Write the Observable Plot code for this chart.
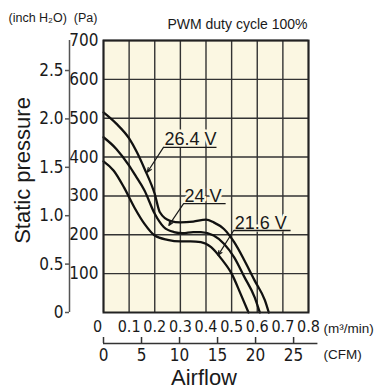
<!DOCTYPE html>
<html><head><meta charset="utf-8">
<script src="https://cdn.jsdelivr.net/npm/d3@7"></script>
<script src="https://cdn.jsdelivr.net/npm/@observablehq/plot@0.6"></script>
<style>html,body{margin:0;padding:0;background:#fff}svg{display:block}</style>
</head><body><div id="chart"></div>
<script>
// ---- data ----
const seriesNames = ["26.4 V", "24 V", "21.6 V"];

const airflow26 = [0, 0.05, 0.10, 0.13, 0.16, 0.20, 0.22, 0.26, 0.30, 0.35, 0.40, 0.43, 0.47, 0.51, 0.55, 0.59, 0.63, 0.645];
const pressure26 = [515, 486, 448, 413, 370, 305, 258, 236, 232, 234, 239, 232, 215, 181, 134, 82, 31, 0];

const airflow24 = [0, 0.05, 0.10, 0.125, 0.16, 0.20, 0.235, 0.275, 0.31, 0.35, 0.38, 0.43, 0.47, 0.51, 0.55, 0.59, 0.61];
const pressure24 = [451, 421, 378, 352, 314, 254, 220, 207, 204, 207, 207, 198, 177, 142, 91, 39, 0];

const airflow21 = [0, 0.04, 0.08, 0.12, 0.16, 0.20, 0.25, 0.30, 0.34, 0.38, 0.42, 0.46, 0.50, 0.535, 0.566];
const pressure21 = [389, 365, 322, 271, 228, 198, 187, 183, 183, 181, 168, 138, 100, 48, 0];

// tick values and labels
const xTicks = [0, 0.1, 0.2, 0.3, 0.4, 0.5, 0.6, 0.7, 0.8];
const xTickLabels = ["0", "0.1", "0.2", "0.3", "0.4", "0.5", "0.6", "0.7", "0.8"];
const paTicks = [100, 200, 300, 400, 500, 600, 700];
const inchTicks = [0, 0.5, 1.0, 1.5, 2.0, 2.5];
const inchLabels = ["0", "0.5", "1.0", "1.5", "2.0", "2.5"];
const cfmTicks = [0, 5, 10, 15, 20, 25];
const cfmAxisEnd = 28.2;          // CFM where the lower axis line stops
const PA_PER_INCH = 249.09;
const CFM_PER_M3 = 33.7;          // spacing of the CFM scale as drawn

// voltage label annotations (data units)
const labelStartX = [0.234, 0.3125, 0.508];
const labelEndX = [0.441, 0.4766, 0.730];
const labelY = [425, 280, 211];
const tipX = [0.171, 0.255, 0.447];
const tipY = [361, 224, 147];

// ---- build tables ----
const rows = [
  ...airflow26.map((x, i) => ({series: seriesNames[0], airflow: x, pressure: pressure26[i]})),
  ...airflow24.map((x, i) => ({series: seriesNames[1], airflow: x, pressure: pressure24[i]})),
  ...airflow21.map((x, i) => ({series: seriesNames[2], airflow: x, pressure: pressure21[i]}))
];
const ann = seriesNames.map((s, i) => ({label: s, x1: labelStartX[i], x2: labelEndX[i], y: labelY[i], tx: tipX[i], ty: tipY[i]}));

const xLabel = new Map(xTicks.map((d, i) => [d, xTickLabels[i]]));
const inchLabel = new Map(inchTicks.map((d, i) => [d * PA_PER_INCH, inchLabels[i]]));

const BG = "#fbf7e2";
const INK = "#1a1a1a";
const NARROW = "'Liberation Sans Narrow', 'DejaVu Sans Condensed', 'Liberation Sans', sans-serif";

const chart = Plot.plot({
  width: 375, height: 388,
  marginLeft: 103, marginRight: 67, marginTop: 40, marginBottom: 76,
  style: {fontFamily: "'Liberation Sans', Arial, sans-serif", background: "#fff", color: INK, overflow: "visible"},
  x: {domain: [0, 0.8]},
  y: {domain: [0, 700]},
  marks: [
    Plot.frame({fill: BG, stroke: null}),
    Plot.gridX(xTicks, {stroke: "#333", strokeOpacity: 1, strokeWidth: 1.4}),
    Plot.gridY(paTicks, {stroke: "#333", strokeOpacity: 1, strokeWidth: 1.4}),
    Plot.line(rows, {x: "airflow", y: "pressure", z: "series", curve: "monotone-x", stroke: "#111", strokeWidth: 2.3}),
    Plot.text(ann, {x: "x1", y: "y", text: "label", textAnchor: "start", lineAnchor: "bottom", dx: 1, dy: -2,
      fontSize: 18, fill: INK, stroke: BG, strokeWidth: 5, paintOrder: "stroke"}),
    Plot.link(ann, {x1: "x1", x2: "x2", y1: "y", y2: "y", stroke: INK, strokeWidth: 1.3}),
    Plot.arrow(ann, {x1: "x1", y1: "y", x2: "tx", y2: "ty", stroke: INK, strokeWidth: 1.2, headLength: 6, headAngle: 45}),
    Plot.frame({stroke: "#222", strokeWidth: 2}),
    // Pa axis labels
    Plot.axisY(paTicks, {anchor: "left", tickSize: 0, tickPadding: 5, fontSize: 17, fontFamily: NARROW, tickFormat: d => String(d)}),
    // inch H2O axis
    Plot.ruleX([0], {y1: 0, y2: 700, dx: -34, stroke: "#555", strokeWidth: 1.5}),
    Plot.axisY(inchTicks.map(d => d * PA_PER_INCH), {anchor: "left", dx: -34, tickSize: 4, tickPadding: 2, stroke: "#555", strokeWidth: 1.5,
      fontSize: 17, fontFamily: NARROW, tickFormat: d => inchLabel.get(d)}),
    // m3/min axis labels
    Plot.axisX(xTicks.filter(d => d > 0), {anchor: "bottom", tickSize: 0, tickPadding: 8, fontSize: 16, fontFamily: NARROW, tickFormat: d => xLabel.get(d)}),
    Plot.axisX(xTicks.filter(d => d === 0), {anchor: "bottom", tickSize: 0, tickPadding: 8, dx: -6, fontSize: 16, fontFamily: NARROW, tickFormat: d => xLabel.get(d)}),
    // CFM axis
    Plot.ruleY([0], {x1: 0, x2: cfmAxisEnd / CFM_PER_M3, dy: 31, stroke: "#333", strokeWidth: 1.5}),
    Plot.axisX(cfmTicks.map(c => c / CFM_PER_M3), {anchor: "bottom", dy: 25, tickSize: 6, tickPadding: 5, stroke: "#333", strokeWidth: 1.5,
      fontSize: 17, fontFamily: NARROW, tickFormat: d => String(Math.round(d * CFM_PER_M3))}),
    // unit and title texts
    Plot.text(["(m³/min)"], {frameAnchor: "bottom-right", dx: 15, dy: 20, textAnchor: "start", lineAnchor: "bottom", fontSize: 13.5, fill: INK}),
    Plot.text(["(CFM)"], {frameAnchor: "bottom-right", dx: 15, dy: 46, textAnchor: "start", lineAnchor: "bottom", fontSize: 13.5, fill: INK}),
    Plot.text(["Airflow"], {frameAnchor: "bottom", dx: -2, dy: 72, textAnchor: "middle", lineAnchor: "bottom", fontSize: 22, fill: INK}),
    Plot.text(["Static pressure"], {frameAnchor: "left", dx: -81, dy: -6, rotate: -90, textAnchor: "middle", lineAnchor: "middle", fontSize: 22, fill: INK}),
    Plot.text(["PWM duty cycle 100%"], {frameAnchor: "top-right", dx: -1, dy: -12, textAnchor: "end", lineAnchor: "bottom", fontSize: 14, fill: INK}),
    Plot.text(["(inch H₂O)  (Pa)"], {frameAnchor: "top-left", dx: -95, dy: -19, textAnchor: "start", lineAnchor: "bottom", fontSize: 12.5, fill: INK})
  ]
});
document.getElementById("chart").appendChild(chart);
</script>
</body></html>
